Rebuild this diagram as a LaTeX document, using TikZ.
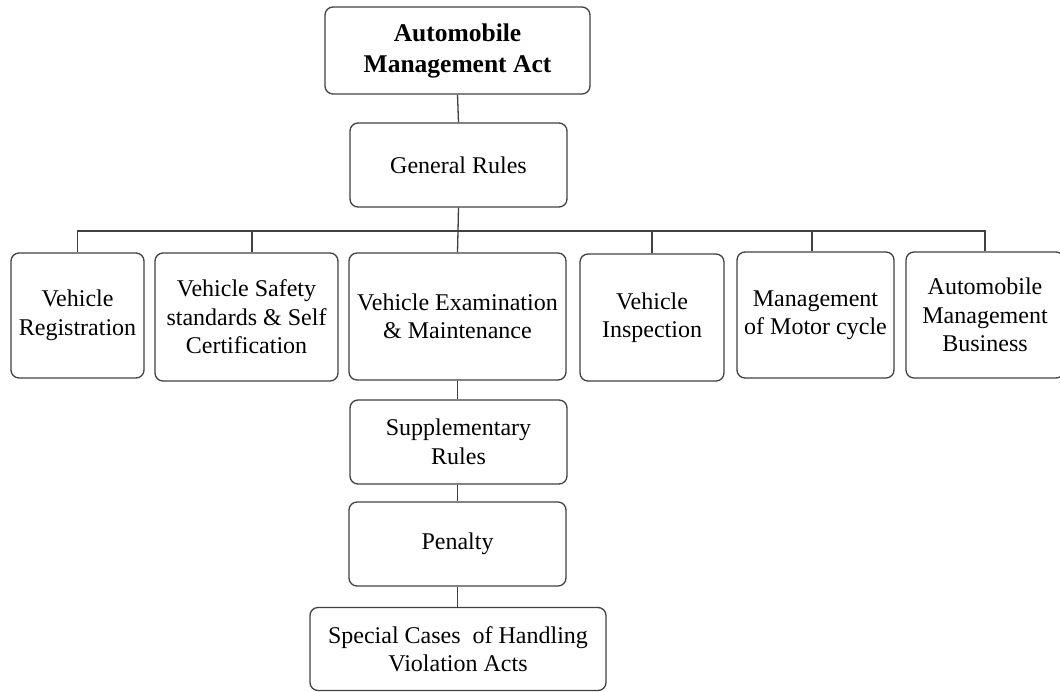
\documentclass[tikz,border=0pt]{standalone}
\usepackage{fontspec}
\setmainfont{Liberation Serif}
\begin{document}
\begin{tikzpicture}[x=1pt,y=-1pt,
  box/.style={draw=black!75, line width=1.3pt, rounded corners=8pt, align=center, inner sep=0pt,
    font=\fontsize{24}{28.5}\selectfont, text=black},
  conn/.style={draw=black!75, line width=1.3pt}]
\useasboundingbox (0,0) rectangle (1060,691);
\node[box, minimum width=265, minimum height=87, font=\fontsize{25.5}{31}\selectfont\bfseries] (top) at (457.5,50.5) {Automobile\\Management Act};
\node[box, minimum width=217, minimum height=84] (gen) at (458.5,165) {General Rules};
\node[box, minimum width=133, minimum height=125] (c1) at (77.5,315.5) {Vehicle\\Registration};
\node[box, minimum width=183, minimum height=128] (c2) at (246.5,317) {Vehicle Safety\\standards \& Self\\Certification};
\node[box, minimum width=217, minimum height=127] (c3) at (457.5,316.5) {Vehicle Examination\\\& Maintenance};
\node[box, minimum width=144, minimum height=127] (c4) at (652,317.5) {Vehicle\\Inspection};
\node[box, minimum width=157, minimum height=126] (c5) at (815.5,315) {Management\\of Motor cycle};
\node[box, minimum width=158, minimum height=126] (c6) at (985,315) {Automobile\\Management\\Business};
\node[box, minimum width=217, minimum height=84] (sup) at (458.5,442) {Supplementary\\Rules};
\node[box, minimum width=217, minimum height=84] (pen) at (457.5,544) {Penalty};
\node[box, minimum width=296, minimum height=83] (spc) at (458,649) {Special Cases\ \ of Handling\\Violation Acts};
\coordinate (bus) at (458,231);
\draw[conn] (top.south) -- (gen.north);
\draw[conn] (gen.south) -- (bus);
\draw[conn] (c1.north) |- (bus);
\draw[conn] ([xshift=5.5pt]c2.north) |- (bus);
\draw[conn] (c3.north) -- (bus);
\draw[conn] (c4.north) |- (bus);
\draw[conn] ([xshift=-3.5pt]c5.north) |- (bus);
\draw[conn] (c6.north) |- (bus);
\draw[conn] (c3.south) -- (sup.north -| c3.south);
\draw[conn] (sup.south -| c3.south) -- (pen.north -| c3.south);
\draw[conn] (pen.south -| c3.south) -- (spc.north -| c3.south);
\end{tikzpicture}
\end{document}
